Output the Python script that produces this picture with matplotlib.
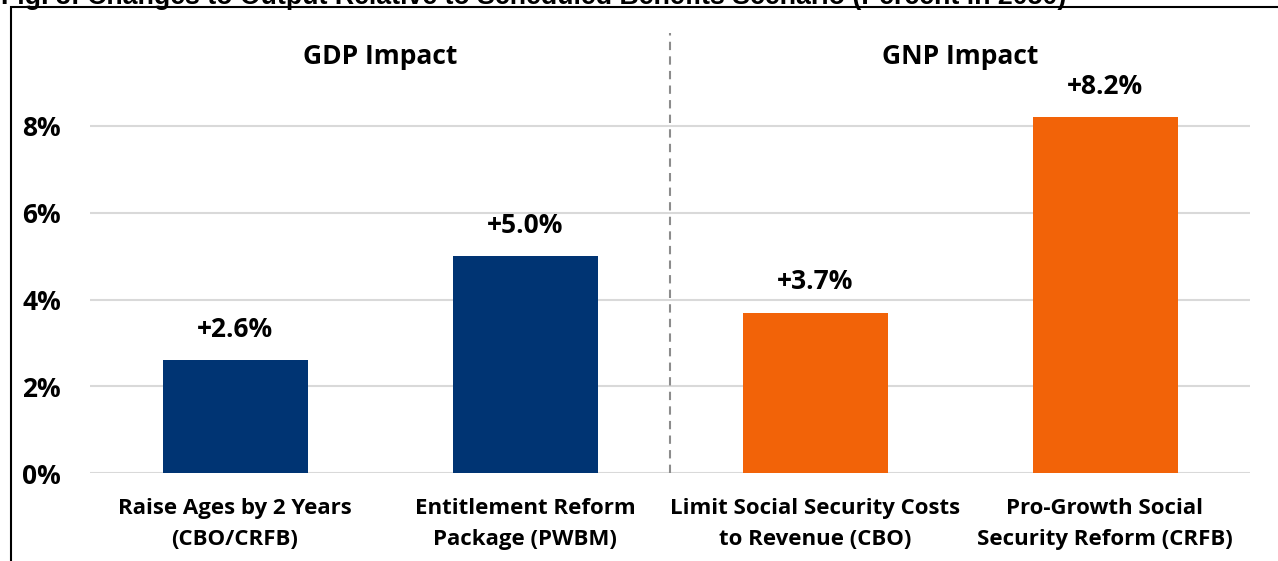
import matplotlib
matplotlib.use("Agg")
import matplotlib.pyplot as plt
from matplotlib.patches import Rectangle

categories = ["Raise Ages by 2 Years\n(CBO/CRFB)",
              "Entitlement Reform\nPackage (PWBM)",
              "Limit Social Security Costs\nto Revenue (CBO)",
              "Pro-Growth Social\nSecurity Reform (CRFB)"]
values = [2.6, 5.0, 3.7, 8.2]
value_labels = ["+2.6%", "+5.0%", "+3.7%", "+8.2%"]
group_labels = ["GDP Impact", "GNP Impact"]
yticks = [0, 2, 4, 6, 8]
ytick_labels = ["0%", "2%", "4%", "6%", "8%"]
title = "Fig. 3: Changes to Output Relative to Scheduled Benefits Scenario (Percent in 2050)"

navy = "#003473"
orange = "#F26308"
colors = [navy, navy, orange, orange]

W, H = 1278, 561
fig = plt.figure(figsize=(W / 100, H / 100), dpi=100)
fig.patch.set_facecolor("white")

FONT = "Open Sans"

# frame around the chart
fig.add_artist(Rectangle((11 / W, -0.1), 1.2, (H - 7) / H + 0.1,
                         transform=fig.transFigure, fill=False,
                         edgecolor="black", linewidth=1.5))
# clipped title at top
fig.text(1 / W, 1 + 3 / H, title, ha="left", va="center",
         fontsize=19.3, fontweight="bold", family="Liberation Sans")

# axes: x from 90 to 1250 px, y 0 at 473 px
left, right = 90, 1250
y0, y10 = 473, 473 - 10 * 43.375
ax = fig.add_axes([left / W, (H - y0) / H, (right - left) / W, (y0 - y10) / H])
ax.set_xlim(-0.5, 3.5)
ax.set_ylim(0, 10)
x = list(range(len(values)))
ax.bar(x, values, width=0.5, color=colors, zorder=3)
for xi, v, lab in zip(x, values, value_labels):
    ax.text(xi, v + 0.4, lab, ha="center", va="bottom", fontsize=19,
            fontweight="bold", family=FONT)

ax.set_yticks(yticks)
ax.set_yticklabels(ytick_labels, fontsize=19, fontweight="bold", family=FONT)
ax.tick_params(axis="y", length=0, pad=21)
ax.tick_params(axis="x", length=0, pad=18)
ax.set_xticks(x)
ax.set_xticklabels(categories, fontsize=16, fontweight="bold", family=FONT,
                   linespacing=1.6)
ax.yaxis.grid(True, color="#D9D9D9", linewidth=1.5, zorder=0)
for s in ax.spines.values():
    s.set_visible(False)

ax.plot([1.5, 1.5], [0, 10.15], linestyle=(0, (4, 3)), color="#8C8C8C",
        linewidth=1.5, clip_on=False, zorder=2)
ax.text(0.5, 9.6, group_labels[0], ha="center", va="center", fontsize=19,
        fontweight="bold", family=FONT)
ax.text(2.5, 9.6, group_labels[1], ha="center", va="center", fontsize=19,
        fontweight="bold", family=FONT)

fig.savefig("out.png", dpi=100)
